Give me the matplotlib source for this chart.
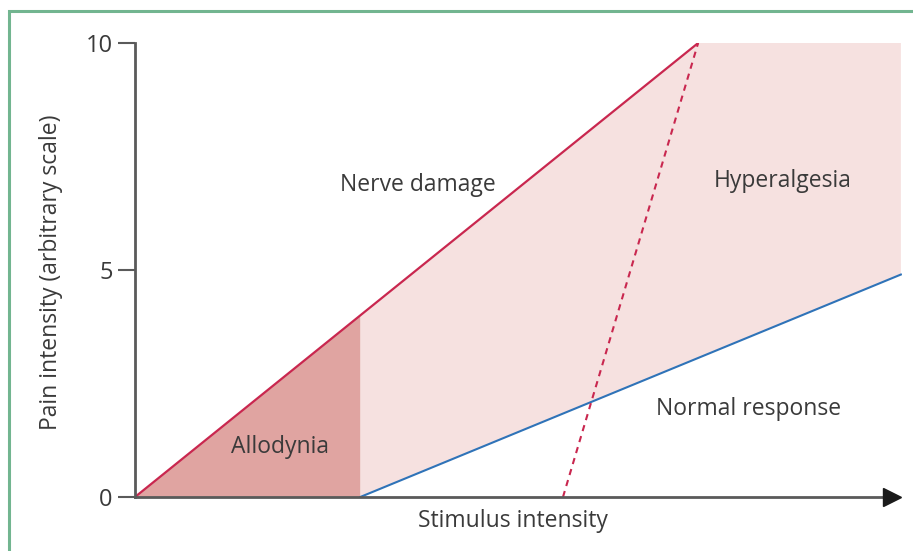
import matplotlib
matplotlib.use("Agg")
import matplotlib.pyplot as plt
from matplotlib.patches import Rectangle

plt.rcParams['font.family'] = ['Open Sans', 'DejaVu Sans']

# Data (arbitrary units)
nerve_x = [0, 10]
nerve_y = [0, 10]
normal_x = [4, 13.6]
normal_y = [0, 4.9]
hyper_x = [7.6, 10]
hyper_y = [0, 10]
allodynia_x = [0, 4, 4]
allodynia_y = [0, 4, 0]
hyperalgesia_x = [4, 13.6, 13.6, 10, 4]
hyperalgesia_y = [0, 4.9, 10, 10, 4]
yticks = [0, 5, 10]
labels = {"Nerve damage": (5.03, 6.88), "Hyperalgesia": (11.5, 6.95),
          "Normal response": (10.9, 1.93), "Allodynia": (2.58, 1.1)}

W, H = 913, 551
fig = plt.figure(figsize=(W / 100, H / 100), dpi=100)
fig.patch.set_facecolor('white')
fig.patches.append(Rectangle((9 / W, -0.1), 1.2, (H - 11) / H + 0.1, transform=fig.transFigure,
                             fill=False, edgecolor='#72b590', lw=2.2, figure=fig))

ax = fig.add_axes([135 / W, 54 / H, (902 - 135) / W, (497 - 43) / H])
ax.set_xlim(0, 13.62)
ax.set_ylim(0, 10)

text_c = '#3a3a3a'
fs = 16.5
ax.fill(hyperalgesia_x, hyperalgesia_y, color='#f6e1e0', lw=0, zorder=1)
ax.fill(allodynia_x, allodynia_y, color='#e0a4a1', lw=0, zorder=1)
ax.plot(nerve_x, nerve_y, color='#c9274f', lw=1.6, zorder=3, solid_capstyle='butt')
ax.plot(normal_x, normal_y, color='#2f73b8', lw=1.5, zorder=3)
ax.plot(hyper_x, hyper_y, color='#c9274f', lw=1.5, ls=(0, (3, 2.5)), zorder=3)

for s in ['top', 'right']:
    ax.spines[s].set_visible(False)
for s in ['left', 'bottom']:
    ax.spines[s].set_color('#5a5a5a')
    ax.spines[s].set_linewidth(2)
    ax.spines[s].set_zorder(4)
ax.spines['bottom'].set_bounds(0, 13.3)
ax.plot([13.45], [0], marker='>', markersize=13, color='#1a1a1a', clip_on=False, zorder=5)

ax.set_xticks([])
ax.set_yticks(yticks)
ax.set_yticklabels([str(v) for v in yticks])
ax.tick_params(axis='y', length=12, width=1.5, color='#5a5a5a', labelsize=17,
               labelcolor=text_c, pad=4)

fig.text(51 / W, 1 - 272 / H, 'Pain intensity (arbitrary scale)', fontsize=fs, color=text_c,
         rotation=90, ha='center', va='center')
fig.text(513 / W, 1 - 521 / H, 'Stimulus intensity', fontsize=fs, color=text_c,
         ha='center', va='center')

for t, (x, y) in labels.items():
    ax.text(x, y, t, fontsize=fs, color=text_c, ha='center', va='center', zorder=6)

fig.savefig('out.png', dpi=100)
